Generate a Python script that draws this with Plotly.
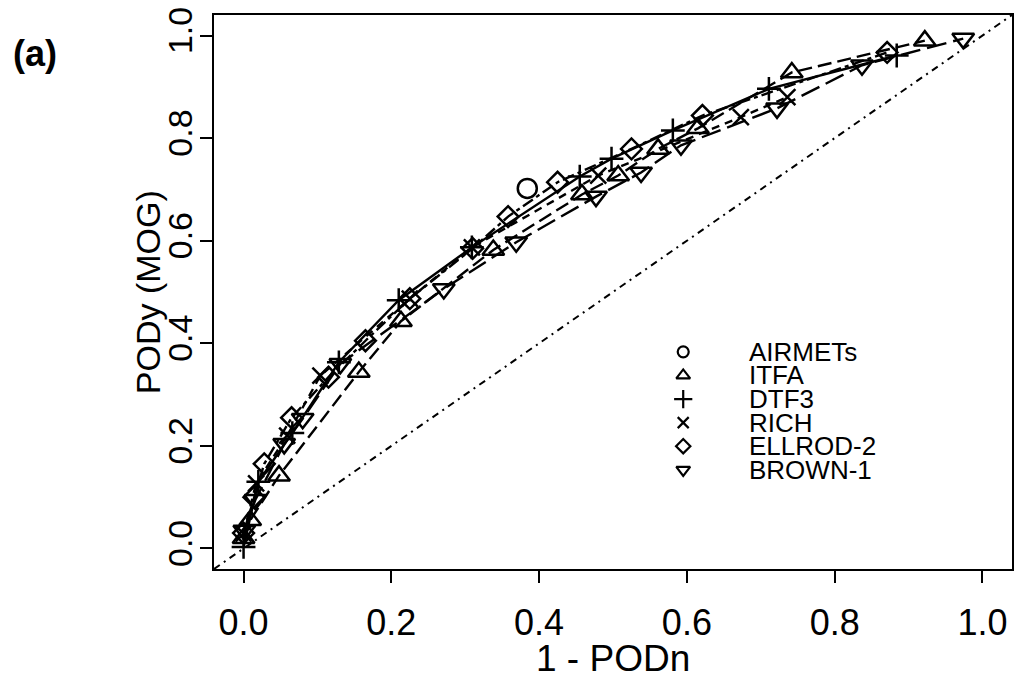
import plotly.graph_objects as go

# ---------------- data ----------------
series_names = ["AIRMETs", "ITFA", "DTF3", "RICH", "ELLROD-2", "BROWN-1"]

airmets_x = [0.384]
airmets_y = [0.702]

itfa_x = [0.0, 0.009, 0.048, 0.156, 0.213, 0.338, 0.458, 0.507, 0.561, 0.615, 0.742, 0.922]
itfa_y = [0.02, 0.055, 0.142, 0.344, 0.443, 0.582, 0.690, 0.727, 0.779, 0.819, 0.928, 0.990]

dtf3_x = [0.0, 0.02, 0.066, 0.129, 0.21, 0.309, 0.455, 0.498, 0.581, 0.711, 0.884]
dtf3_y = [0.003, 0.13, 0.225, 0.363, 0.484, 0.587, 0.725, 0.760, 0.815, 0.896, 0.961]

rich_x = [0.0, 0.017, 0.059, 0.104, 0.225, 0.309, 0.48, 0.673, 0.736]
rich_y = [0.029, 0.127, 0.22, 0.337, 0.487, 0.587, 0.727, 0.841, 0.880]

ellrod_x = [0.0, 0.014, 0.028, 0.065, 0.115, 0.165, 0.225, 0.31, 0.358, 0.425, 0.525, 0.621, 0.871]
ellrod_y = [0.03, 0.1, 0.165, 0.255, 0.334, 0.405, 0.487, 0.585, 0.647, 0.714, 0.779, 0.844, 0.967]

brown_x = [0.001, 0.016, 0.055, 0.08, 0.131, 0.271, 0.369, 0.477, 0.538, 0.592, 0.722, 0.837, 0.974]
brown_y = [0.035, 0.095, 0.204, 0.253, 0.36, 0.506, 0.597, 0.686, 0.733, 0.786, 0.858, 0.942, 0.994]

tick_vals = [0.0, 0.2, 0.4, 0.6, 0.8, 1.0]
tick_text = ["0.0", "0.2", "0.4", "0.6", "0.8", "1.0"]
axis_range = [-0.04, 1.04]

# ---------------- styles ----------------
FONT = "Liberation Sans, Arial, sans-serif"
symbols = ["circle-open", "triangle-up-open", "cross-thin-open", "x-thin-open",
           "diamond-open", "triangle-down-open"]
sizes = [19, 19, 17, 16, 16, 19]
dashes = [None, "14px,6px", "solid", "8px,6px", "4px,4px,12px,4px", "20px,7px"]
data = [(airmets_x, airmets_y), (itfa_x, itfa_y), (dtf3_x, dtf3_y),
        (rich_x, rich_y), (ellrod_x, ellrod_y), (brown_x, brown_y)]

fig = go.Figure()

# diagonal reference line (dot-dash)
fig.add_trace(go.Scatter(x=axis_range, y=axis_range, mode="lines",
                         line=dict(color="black", width=2, dash="7px,5px,2px,5px"),
                         showlegend=False, hoverinfo="skip"))

for i, (name, (xs, ys)) in enumerate(zip(series_names, data)):
    mode = "markers" if len(xs) == 1 else "lines+markers"
    fig.add_trace(go.Scatter(
        x=xs, y=ys, mode=mode, name=name, showlegend=False,
        line=dict(color="black", width=2.4, dash=dashes[i] if dashes[i] else "solid"),
        marker=dict(symbol=symbols[i], size=sizes[i], color="black",
                    line=dict(color="black", width=2.5)),
    ))

# ---------------- manual legend (markers on an overlay frame + text) ----------------
LEG_X = 0.588
LEG_TX = 0.668
LEG_Y0 = 0.392
LEG_DY = 0.0426
leg_sizes = [11, 12, 13, 11, 11, 12]
for i, name in enumerate(series_names):
    fig.add_trace(go.Scatter(
        x=[LEG_X], y=[LEG_Y0 - i * LEG_DY], xaxis="x2", yaxis="y2",
        mode="markers", showlegend=False, hoverinfo="skip",
        marker=dict(symbol=symbols[i], size=leg_sizes[i], color="black",
                    line=dict(color="black", width=2.2)),
    ))
    fig.add_annotation(x=LEG_TX, y=LEG_Y0 - i * LEG_DY, xref="paper", yref="paper",
                       text=name, showarrow=False, xanchor="left", yanchor="middle",
                       font=dict(family=FONT, size=26, color="black"))

fig.add_annotation(x=-0.254, y=0.93, xref="paper", yref="paper", text="<b>(a)</b>",
                   showarrow=False, xanchor="left", yanchor="middle",
                   font=dict(family=FONT, size=36, color="black"))

# axis titles placed as labels outside the plotting area
fig.add_annotation(x=-0.0825, y=0.5, xref="paper", yref="paper", text="PODy (MOG)",
                   showarrow=False, textangle=-90, xanchor="center", yanchor="middle",
                   font=dict(family=FONT, size=34, color="black"))
fig.add_annotation(x=0.5, y=-0.162, xref="paper", yref="paper", text="1 - PODn",
                   showarrow=False, xanchor="center", yanchor="middle",
                   font=dict(family=FONT, size=37, color="black"))

axis_common = dict(range=axis_range, tickvals=tick_vals, ticktext=tick_text,
                   ticks="outside", ticklen=12, tickwidth=2, tickcolor="black",
                   showline=True, linewidth=2, linecolor="black", mirror=True,
                   showgrid=False, zeroline=False)

fig.update_layout(
    width=1018, height=679,
    margin=dict(l=214, r=4, t=15, b=110),
    paper_bgcolor="white", plot_bgcolor="white",
    font=dict(family=FONT, color="black"),
    xaxis=dict(**axis_common,
               tickfont=dict(family=FONT, size=36, color="black"),
               ticklabelstandoff=9),
    yaxis=dict(**axis_common, tickangle=-90,
               tickfont=dict(family=FONT, size=34, color="black"),
               ticklabelstandoff=-6),
    xaxis2=dict(overlaying="x", range=[0, 1], visible=False),
    yaxis2=dict(overlaying="y", range=[0, 1], visible=False),
    showlegend=False,
)

fig.write_html("out.html")
